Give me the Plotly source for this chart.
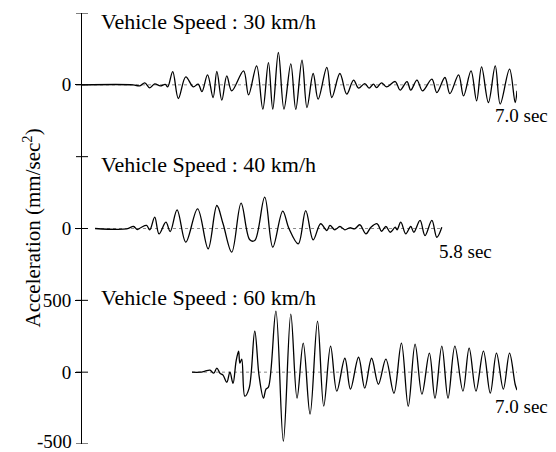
import plotly.graph_objects as go

# ---- data: time (s) and acceleration (mm/sec^2) ----
t30 = [0.00, 0.82, 0.93, 1.01, 1.09, 1.17, 1.26, 1.34, 1.38, 1.46, 1.55, 1.67, 1.79, 1.87, 1.93,
       2.02, 2.11, 2.17, 2.25, 2.33, 2.41, 2.60, 2.68, 2.81, 2.91, 3.00, 3.07, 3.16, 3.25,
       3.36, 3.44, 3.54, 3.62, 3.72, 3.80, 3.94, 4.02, 4.15, 4.26, 4.37, 4.45, 4.55, 4.62,
       4.69, 4.74, 4.82, 4.90, 5.04, 5.12, 5.23, 5.29, 5.39, 5.48, 5.63, 5.71, 5.84, 5.92,
       6.06, 6.14, 6.26, 6.35, 6.43, 6.54, 6.65, 6.73, 6.88, 6.97, 7.00]
a30 = [0, 0, -7, 14, -21, 7, -7, 3, -14, 92, -95, 56, -14, 5, -47,
       70, -88, 93, -107, 63, -42, 97, -70, 132, -169, 155, -169, 225, -169,
       146, -171, 172, -158, 79, -100, 121, -88, 79, -65, 33, -23, 9, -23,
       5, -19, 14, -14, 23, -37, 23, -37, 33, -42, 40, -54, 51, -61,
       70, -77, 97, -111, 125, -123, 132, -134, 109, -123, -42]

t40 = [0.21, 0.72, 0.83, 0.89, 0.95, 1.04, 1.09, 1.17, 1.24, 1.35, 1.42, 1.53, 1.67, 1.86,
       2.03, 2.17, 2.27, 2.41, 2.56, 2.70, 2.78, 2.94, 3.07, 3.23, 3.33, 3.48, 3.60, 3.72,
       3.84, 3.94, 3.99, 4.07, 4.15, 4.23, 4.31, 4.39, 4.47, 4.57, 4.65, 4.75, 4.82, 4.89,
       4.96, 5.04, 5.07, 5.13, 5.21, 5.29, 5.34, 5.44, 5.52, 5.63, 5.71, 5.79]
a40 = [0, -3, 14, -7, 7, 21, -10, 79, -37, 44, -21, 130, -95, 137,
       -141, 160, 33, -165, 176, -79, -84, 218, -130, 121, 0, -107, 125, -79,
       33, -14, 21, -9, 14, -9, 5, -2, 26, -37, 9, 33, -19, 14,
       -26, 9, -9, 44, -37, 14, -26, 56, -49, 56, -61, 9]

t60 = [1.77, 1.90, 1.98, 2.06, 2.12, 2.17, 2.22, 2.27, 2.33, 2.38, 2.43, 2.48, 2.52, 2.54,
       2.57, 2.62, 2.69, 2.78, 2.85, 2.92, 2.96, 3.00, 3.12, 3.24, 3.36, 3.46, 3.56, 3.67,
       3.79, 3.89, 4.00, 4.10, 4.23, 4.32, 4.45, 4.55, 4.66, 4.77, 4.89, 5.02, 5.14, 5.25,
       5.36, 5.47, 5.59, 5.68, 5.79, 5.89, 6.00, 6.13, 6.23, 6.34, 6.46, 6.57, 6.67, 6.78,
       6.88, 6.97, 7.00]
a60 = [0, 0, 7, 14, -7, 28, -7, -21, -70, 0, -77, 77, 146, 63,
       91, -167, -111, 286, -28, -181, -118, -104, 425, -480, 404, -181, 202, -292,
       355, -237, 181, -132, 97, -118, 104, -111, 97, -84, 91, -146, 202, -237,
       195, -153, 132, -181, 181, -181, 181, -132, 167, -132, 146, -146, 132, -118,
       132, -84, -125]

speeds = ["30", "40", "60"]
durations = ["7.0 sec", "5.8 sec", "7.0 sec"]
ytick_vals = [0, 500, 1000, 2000]
ytick_text = ["0", "500", "0", "0"]
bottom_tick_val = -500
bottom_tick_text = "-500"
unlabeled_ticks = [1500, 2500]

# ---- styling / layout ----
offsets = [2000, 1000, 0]
FONT = "Liberation Serif"
PW = 435  # plot width in px
series = [(t30, a30), (t40, a40), (t60, a60)]

fig = go.Figure()
for (t, a), off in zip(series, offsets):
    fig.add_trace(go.Scatter(
        x=[t[0], t[-1]], y=[off, off], mode="lines",
        line=dict(color="#888888", width=1, dash="dot"),
        hoverinfo="skip", showlegend=False))
    fig.add_trace(go.Scatter(
        x=t, y=[v + off for v in a], mode="lines",
        line=dict(color="black", width=1.3, shape="spline", smoothing=1.0),
        showlegend=False))

title_y = [2444, 1448, 519]
for sp, ty in zip(speeds, title_y):
    fig.add_annotation(x=0.27, y=ty, xref="x", yref="y", xanchor="left", yanchor="middle",
                       text=f"Vehicle Speed : {sp} km/h", showarrow=False,
                       font=dict(family=FONT, size=22, color="black"))

dur_pos = [(6.61, 1790), (5.71, 843), (6.61, -240)]
for d, (dx, dy) in zip(durations, dur_pos):
    fig.add_annotation(x=dx, y=dy, xref="x", yref="y", xanchor="left", yanchor="middle",
                       text=d, showarrow=False,
                       font=dict(family=FONT, size=19, color="black"))

fig.add_annotation(x=-50 / PW, y=0.5, xref="paper", yref="paper", textangle=-90,
                   xanchor="center", yanchor="middle", showarrow=False,
                   text="Acceleration (mm/sec<sup>2</sup>)",
                   font=dict(family=FONT, size=21, color="black"))

# bottom tick label, kept inside the page
fig.add_annotation(x=-9 / PW, y=bottom_tick_val, xref="paper", yref="y",
                   xanchor="right", yanchor="bottom", yshift=-9, borderpad=0,
                   text=bottom_tick_text, showarrow=False,
                   font=dict(family=FONT, size=19, color="black"))

for v in ytick_vals + [bottom_tick_val]:
    fig.add_shape(type="line", xref="paper", yref="y", x0=-6 / PW, x1=6 / PW, y0=v, y1=v,
                  line=dict(color="black", width=1))
for v in unlabeled_ticks:
    fig.add_shape(type="line", xref="paper", yref="y", x0=-6 / PW, x1=6 / PW, y0=v, y1=v,
                  line=dict(color="black", width=1))

# page body has an 8px margin, so figure is 8px smaller and margins shifted
fig.update_layout(
    width=548, height=444,
    margin=dict(l=74, r=39, t=5, b=8, autoexpand=False),
    paper_bgcolor="white", plot_bgcolor="white",
    showlegend=False,
    xaxis=dict(visible=False, range=[0, 7], automargin=False),
    yaxis=dict(range=[-500, 2500], showgrid=False, zeroline=False, automargin=False,
               showline=True, linecolor="black", linewidth=1,
               ticks="outside", ticklen=6, tickcolor="black", tickwidth=1,
               tickvals=ytick_vals, ticktext=ytick_text,
               tickfont=dict(family=FONT, size=19, color="black")),
)

fig.write_html("out.html")
